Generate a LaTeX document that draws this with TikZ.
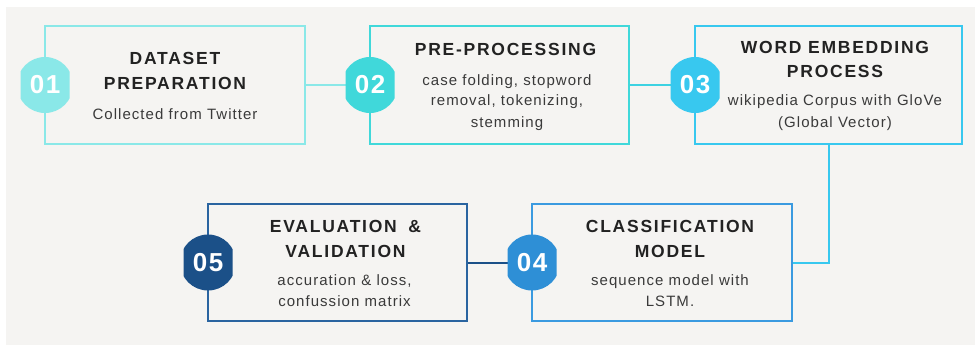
\documentclass[tikz,border=0pt]{standalone}
\usepackage{fontspec}
\setmainfont{Liberation Sans}
\newfontfamily\titlefont[LetterSpace=10]{Liberation Sans}
\newfontfamily\bodyfont[LetterSpace=7]{Liberation Sans}
\newfontfamily\numfont[LetterSpace=6]{Liberation Sans}
\definecolor{bg}{HTML}{F5F4F2}
\definecolor{cA}{HTML}{8AE8E8}
\definecolor{cB}{HTML}{40D8DA}
\definecolor{cC}{HTML}{38C8EF}
\definecolor{cD}{HTML}{2E8FD6}
\definecolor{cE}{HTML}{1B5088}
\definecolor{bD}{HTML}{3A9AE0}
\definecolor{bE}{HTML}{2A64A0}
\definecolor{ttl}{HTML}{222222}
\definecolor{bdy}{HTML}{3A3A3A}
\begin{document}
\begin{tikzpicture}[x=1pt,y=-1pt,
  stepbox/.style={draw, line width=2.2pt, fill=none, minimum height=118pt, inner sep=0pt},
  conn/.style={line width=2pt},
  badge/.style={minimum width=49pt, minimum height=56pt, inner sep=0pt, text=white,
    font=\numfont\bfseries\fontsize{26}{26}\selectfont,
    path picture={\fill[#1] (path picture bounding box.center) circle (28pt);}},
  ttext/.style={anchor=base, text=ttl, inner sep=0pt, font=\titlefont\bfseries\fontsize{17.5}{17.5}\selectfont},
  btext/.style={anchor=base, text=bdy, inner sep=0pt, font=\bodyfont\fontsize{15}{15}\selectfont}]
\useasboundingbox (0,0) rectangle (975,345);
\fill[bg] (6,7) rectangle (975,345);
% boxes
\node[stepbox, draw=cA, minimum width=260pt] (b1) at (175,85) {};
\node[stepbox, draw=cB, minimum width=259pt] (b2) at (499.5,85) {};
\node[stepbox, draw=cC, minimum width=267pt] (b3) at (828.5,85) {};
\node[stepbox, draw=bD, minimum width=260pt, minimum height=117pt] (b4) at (662,262.5) {};
\node[stepbox, draw=bE, minimum width=259pt, minimum height=117pt] (b5) at (337.5,262.5) {};
% connectors
\draw[conn, draw=cA] (b1.east) -- (b2.west);
\draw[conn, draw=cB!60!cC] (b2.east) -- (b3.west);
\draw[conn, draw=cC] (b3.south) |- (b4.east);
\draw[conn, draw=cE] (b4.west) -- (b5.east);
% badges
\node[badge=cA] (n1) at (45,85) {01};
\node[badge=cB] (n2) at (370,85) {02};
\node[badge=cC] (n3) at (695,85) {03};
\node[badge=cD] (n4) at (532,262.5) {04};
\node[badge=cE] (n5) at (208,262.5) {05};
% texts box 1
\node[ttext] (t1a) at (175,65) {DATASET};
\node[ttext] (t1b) at (175,89.5) {PREPARATION};
\node[btext] (d1a) at (175,119) {Collected from Twitter};
% box 2
\node[ttext] (t2a) at (505.5,56) {PRE-PROCESSING};
\node[btext] (d2a) at (507,85) {case folding, stopword};
\node[btext] (d2b) at (507,106) {removal, tokenizing,};
\node[btext] (d2c) at (507,127) {stemming};
% box 3
\node[ttext] (t3a) at (835,54) {WORD EMBEDDING};
\node[ttext] (t3b) at (835,77.5) {PROCESS};
\node[btext] (d3a) at (835,106) {wikipedia Corpus with GloVe};
\node[btext] (d3b) at (835,127) {(Global Vector)};
% box 4
\node[ttext] (t4a) at (670,232.7) {CLASSIFICATION};
\node[ttext] (t4b) at (670,257.7) {MODEL};
\node[btext] (d4a) at (670,285) {sequence model with};
\node[btext] (d4b) at (670,306.5) {LSTM.};
% box 5
\node[ttext] (t5a) at (345.5,232.7) {EVALUATION\hspace{5pt} \&};
\node[ttext] (t5b) at (345.5,257) {VALIDATION};
\node[btext] (d5a) at (344.5,285) {accuration \& loss,};
\node[btext] (d5b) at (344.5,306) {confussion matrix};
\end{tikzpicture}
\end{document}
